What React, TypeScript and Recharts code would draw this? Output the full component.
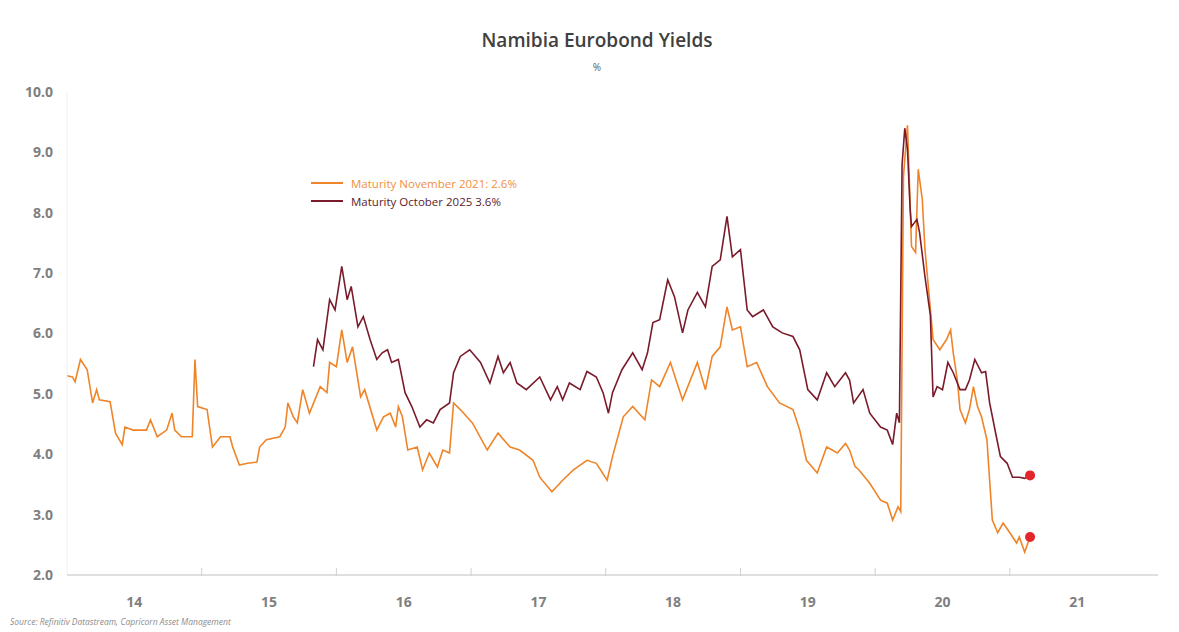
import React from "react";
import { LineChart, Line, XAxis, YAxis, ReferenceDot } from "recharts";

// fractional year, yield in %
const nov2021Dates = [
  2014.0, 2014.04, 2014.06, 2014.1, 2014.15, 2014.19, 2014.22, 2014.24, 2014.32, 2014.36, 2014.41, 2014.43,
  2014.49, 2014.59, 2014.62, 2014.67, 2014.74, 2014.78, 2014.8, 2014.85, 2014.93, 2014.95, 2014.97, 2015.04,
  2015.08, 2015.14, 2015.21, 2015.23, 2015.28, 2015.34, 2015.41, 2015.43, 2015.48, 2015.58, 2015.62, 2015.64,
  2015.68, 2015.71, 2015.75, 2015.8, 2015.88, 2015.93, 2015.95, 2016.0, 2016.04, 2016.08, 2016.12, 2016.18,
  2016.21, 2016.3, 2016.35, 2016.4, 2016.44, 2016.46, 2016.49, 2016.53, 2016.6, 2016.64, 2016.69, 2016.75,
  2016.79, 2016.84, 2016.87, 2016.92, 2017.01, 2017.12, 2017.2, 2017.29, 2017.36, 2017.46, 2017.51, 2017.6,
  2017.68, 2017.76, 2017.86, 2017.93, 2018.01, 2018.05, 2018.13, 2018.2, 2018.29, 2018.34, 2018.4, 2018.48,
  2018.57, 2018.68, 2018.74, 2018.79, 2018.85, 2018.9, 2018.94, 2019.0, 2019.05, 2019.12, 2019.2, 2019.29,
  2019.39, 2019.44, 2019.49, 2019.57, 2019.64, 2019.72, 2019.78, 2019.81, 2019.85, 2019.88, 2019.96, 2020.04,
  2020.09, 2020.13, 2020.17, 2020.19, 2020.21, 2020.24, 2020.27, 2020.3, 2020.32, 2020.35, 2020.37, 2020.41,
  2020.43, 2020.48, 2020.53, 2020.56, 2020.58, 2020.61, 2020.63, 2020.67, 2020.7, 2020.73, 2020.76, 2020.79,
  2020.83, 2020.85, 2020.87, 2020.91, 2020.95, 2021.0, 2021.05, 2021.07, 2021.11, 2021.15,
];
const nov2021Yields = [
  5.3, 5.28, 5.2, 5.57, 5.4, 4.85, 5.07, 4.9, 4.87, 4.35, 4.16, 4.45,
  4.4, 4.4, 4.57, 4.29, 4.4, 4.68, 4.4, 4.29, 4.29, 5.57, 4.79, 4.74,
  4.12, 4.29, 4.29, 4.12, 3.82, 3.85, 3.87, 4.12, 4.24, 4.29, 4.45, 4.85,
  4.62, 4.52, 5.07, 4.68, 5.12, 5.02, 5.52, 5.45, 6.06, 5.52, 5.78, 4.95,
  5.07, 4.4, 4.62, 4.68, 4.45, 4.79, 4.62, 4.07, 4.12, 3.74, 4.02, 3.79,
  4.07, 4.02, 4.85, 4.74, 4.52, 4.07, 4.35, 4.12, 4.07, 3.9, 3.62, 3.38,
  3.57, 3.74, 3.9, 3.85, 3.57, 3.96, 4.62, 4.79, 4.57, 5.23, 5.12, 5.52,
  4.9, 5.52, 5.07, 5.62, 5.78, 6.44, 6.06, 6.11, 5.45, 5.52, 5.12, 4.85,
  4.74, 4.4, 3.9, 3.69, 4.12, 4.02, 4.18, 4.07, 3.8, 3.74, 3.52, 3.24,
  3.19, 2.91, 3.13, 3.05, 8.6, 9.45, 7.44, 7.34, 8.72, 8.22, 7.39, 6.4,
  5.9, 5.73, 5.9, 6.06, 5.68, 5.23, 4.74, 4.52, 4.74, 5.12, 4.79, 4.62,
  4.24, 3.57, 2.91, 2.7, 2.86, 2.7, 2.53, 2.63, 2.38, 2.63,
];

const oct2025Dates = [
  2015.83, 2015.86, 2015.9, 2015.95, 2015.99, 2016.04, 2016.08, 2016.11, 2016.16, 2016.2, 2016.25, 2016.3,
  2016.34, 2016.38, 2016.41, 2016.46, 2016.51, 2016.56, 2016.62, 2016.67, 2016.72, 2016.77, 2016.84, 2016.87,
  2016.92, 2016.99, 2017.07, 2017.14, 2017.2, 2017.24, 2017.29, 2017.34, 2017.41, 2017.51, 2017.59, 2017.64,
  2017.68, 2017.73, 2017.81, 2017.86, 2017.93, 2017.98, 2018.02, 2018.05, 2018.12, 2018.2, 2018.27, 2018.31,
  2018.35, 2018.4, 2018.46, 2018.51, 2018.57, 2018.61, 2018.68, 2018.74, 2018.79, 2018.85, 2018.9, 2018.94,
  2019.0, 2019.05, 2019.09, 2019.17, 2019.24, 2019.31, 2019.39, 2019.44, 2019.5, 2019.57, 2019.64, 2019.7,
  2019.78, 2019.81, 2019.84, 2019.91, 2019.96, 2020.04, 2020.09, 2020.13, 2020.16, 2020.18, 2020.2, 2020.22,
  2020.24, 2020.26, 2020.27, 2020.31, 2020.33, 2020.37, 2020.41, 2020.43, 2020.46, 2020.5, 2020.54, 2020.58,
  2020.63, 2020.67, 2020.7, 2020.74, 2020.79, 2020.82, 2020.85, 2020.9, 2020.93, 2020.98, 2021.02, 2021.07,
  2021.11, 2021.15,
];
const oct2025Yields = [
  5.45, 5.9, 5.73, 6.56, 6.39, 7.11, 6.56, 6.78, 6.11, 6.28, 5.9, 5.57,
  5.68, 5.73, 5.52, 5.57, 5.02, 4.79, 4.45, 4.57, 4.52, 4.74, 4.85, 5.35,
  5.62, 5.73, 5.52, 5.18, 5.62, 5.35, 5.52, 5.18, 5.07, 5.28, 4.9, 5.12,
  4.9, 5.18, 5.07, 5.37, 5.28, 5.02, 4.68, 5.02, 5.4, 5.68, 5.4, 5.68,
  6.18, 6.23, 6.89, 6.61, 6.01, 6.39, 6.68, 6.44, 7.11, 7.22, 7.94, 7.27,
  7.39, 6.39, 6.28, 6.39, 6.11, 6.01, 5.95, 5.73, 5.07, 4.9, 5.35, 5.12,
  5.35, 5.23, 4.85, 5.07, 4.68, 4.45, 4.4, 4.16, 4.68, 4.52, 8.8, 9.4,
  9.05, 8.05, 7.77, 7.89, 7.67, 6.94, 6.3, 4.95, 5.12, 5.07, 5.52, 5.35,
  5.07, 5.07, 5.23, 5.57, 5.35, 5.37, 4.85, 4.29, 3.96, 3.85, 3.62, 3.62,
  3.6, 3.65,
];

const seriesNames = ["Maturity November 2021: 2.6%", "Maturity October 2025 3.6%"];
const yTicks = [2, 3, 4, 5, 6, 7, 8, 9, 10];
const yearLabels = ["14", "15", "16", "17", "18", "19", "20", "21"];
const yearStarts = [2015, 2016, 2017, 2018, 2019, 2020, 2021];

const nov2021 = nov2021Dates.map((t, i) => ({ t, v: nov2021Yields[i] }));
const oct2025 = oct2025Dates.map((t, i) => ({ t, v: oct2025Yields[i] }));
const xTicks = [...yearLabels.map((_, i) => 2014.5 + i), ...yearStarts].sort((a, b) => a - b);

const ORANGE = "#EF8428";
const MAROON = "#7A1B2C";
const DOT = "#E3262B";
const FONT = "'Open Sans', sans-serif";

function YearTick(props: any) {
  const { x, y, payload } = props;
  const v = payload.value as number;
  if (Number.isInteger(v)) {
    return <line x1={x} x2={x} y1={y - 7} y2={y + 1} stroke="#cfcfcf" strokeWidth={1} />;
  }
  return (
    <text x={x} y={y + 32} textAnchor="middle" fill="#7f7f7f" fontSize={14} fontWeight={700} fontFamily={FONT}>
      {yearLabels[Math.floor(v) - 2014]}
    </text>
  );
}

const legendItems = [
  { name: seriesNames[0], line: ORANGE, text: "#F0903C" },
  { name: seriesNames[1], line: MAROON, text: "#5B1A2A" },
];

export default function App() {
  const lastNov = nov2021[nov2021.length - 1];
  const lastOct = oct2025[oct2025.length - 1];
  return (
    <div style={{ position: "absolute", left: 0, top: 0, width: 1179, height: 632, background: "#fff" }}>
      <div
        style={{
          position: "absolute", left: 0, width: 1194, top: 27, textAlign: "center",
          fontFamily: FONT, fontSize: 19, fontWeight: 600, color: "#404040",
        }}
      >
        Namibia Eurobond Yields
      </div>
      <div
        style={{
          position: "absolute", left: 0, width: 1194, top: 60, textAlign: "center",
          fontFamily: FONT, fontSize: 10, color: "#595959",
        }}
      >
        %
      </div>
      <LineChart width={1179} height={632} data={nov2021} margin={{ top: 92, right: 21, bottom: 17, left: 7 }}>
        <XAxis
          dataKey="t"
          type="number"
          domain={[2014, 2022.1]}
          ticks={xTicks}
          interval={0}
          height={40}
          tick={<YearTick />}
          tickLine={false}
          tickSize={0}
          tickMargin={0}
          axisLine={{ stroke: "#d4d4d4", strokeWidth: 1.5 }}
          allowDataOverflow
        />
        <YAxis
          type="number"
          domain={[2, 10]}
          ticks={yTicks}
          width={60}
          tickFormatter={(v: number) => v.toFixed(1)}
          tick={{ fill: "#7f7f7f", fontSize: 14, fontWeight: 700, fontFamily: FONT }}
          tickLine={false}
          tickSize={0}
          tickMargin={14}
          axisLine={{ stroke: "#f0f0f0" }}
        />
        <Line
          data={nov2021}
          dataKey="v"
          name={seriesNames[0]}
          stroke={ORANGE}
          strokeWidth={1.6}
          dot={false}
          type="linear"
          isAnimationActive={false}
        />
        <Line
          data={oct2025}
          dataKey="v"
          name={seriesNames[1]}
          stroke={MAROON}
          strokeWidth={1.6}
          dot={false}
          type="linear"
          isAnimationActive={false}
        />
        <ReferenceDot x={lastNov.t} y={lastNov.v} r={5} fill={DOT} stroke="none" />
        <ReferenceDot x={lastOct.t} y={lastOct.v} r={5} fill={DOT} stroke="none" />
      </LineChart>
      <div style={{ position: "absolute", left: 311, top: 174, fontFamily: FONT, fontSize: 11.5 }}>
        {legendItems.map((it) => (
          <div key={it.name} style={{ display: "flex", alignItems: "center", height: 18 }}>
            <span style={{ display: "inline-block", width: 32, height: 2, background: it.line, marginRight: 8 }} />
            <span style={{ color: it.text }}>{it.name}</span>
          </div>
        ))}
      </div>
      <div
        style={{
          position: "absolute", left: 10, top: 616, fontFamily: FONT, fontSize: 8.5,
          fontStyle: "italic", color: "#8c8c8c",
        }}
      >
        Source: Refinitiv Datastream, Capricorn Asset Management
      </div>
    </div>
  );
}
